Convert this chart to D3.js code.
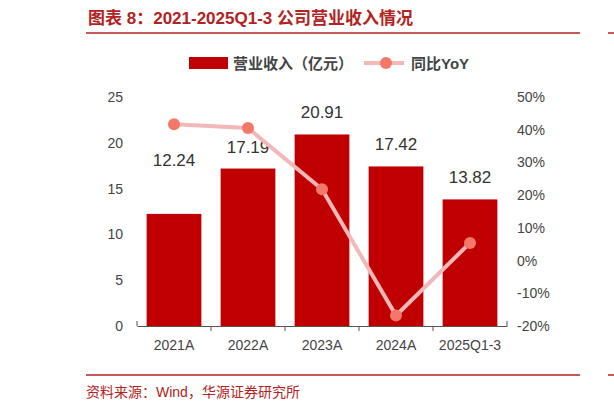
<!DOCTYPE html><html><head><meta charset="utf-8">
<script src="https://cdn.jsdelivr.net/npm/d3@7"></script>
<style>body{margin:0;background:#fff}text{font-family:Arial,"Liberation Sans","Noto Sans CJK SC",sans-serif}</style></head><body>
<svg id="c" width="614" height="412"></svg>
<script>
const categories=["2021A","2022A","2023A","2024A","2025Q1-3"];
const revenue=[12.24,17.19,20.91,17.42,13.82];
const yoy=[41.7,40.5,21.8,-16.8,5.4];
const leftTicks=[0,5,10,15,20,25];
const rightTicks=[-20,-10,0,10,20,30,40,50];
const svg=d3.select("#c");
const red="#c00000",tr="#b22222";
svg.append("text").attr("x",88).attr("y",24).attr("fill",tr).attr("font-size",17).attr("font-weight","bold")
 .attr("font-family","'Noto Sans CJK SC',sans-serif").text("图表 8：2021-2025Q1-3 公司营业收入情况");
svg.append("line").attr("x1",86).attr("x2",580).attr("y1",33).attr("y2",33).attr("stroke",tr).attr("stroke-width",1.5);
svg.append("line").attr("x1",608).attr("x2",614).attr("y1",33).attr("y2",33).attr("stroke",tr).attr("stroke-width",1.5);
svg.append("line").attr("x1",86).attr("x2",580).attr("y1",375).attr("y2",375).attr("stroke",tr).attr("stroke-width",1.5);
svg.append("line").attr("x1",608).attr("x2",614).attr("y1",375).attr("y2",375).attr("stroke",tr).attr("stroke-width",1.5);
svg.append("text").attr("x",86).attr("y",397).attr("fill",tr).attr("font-size",14)
 .attr("font-family","'Noto Sans CJK SC',monospace").text("资料来源：Wind，华源证券研究所");
// legend
svg.append("rect").attr("x",189).attr("y",57).attr("width",39).attr("height",12).attr("fill",red);
svg.append("text").attr("x",233).attr("y",69).attr("font-size",15).attr("font-weight","bold").attr("fill","#444").text("营业收入（亿元）");
svg.append("line").attr("x1",364).attr("x2",404).attr("y1",63).attr("y2",63).attr("stroke","#f2b8b8").attr("stroke-width",4);
svg.append("circle").attr("cx",386).attr("cy",63).attr("r",6).attr("fill","#f4786a");
svg.append("text").attr("x",411).attr("y",69).attr("font-size",15).attr("font-weight","bold").attr("fill","#444").text("同比YoY");
const x0=137,x1=507,yb=326;
const x=d3.scaleBand().domain(categories).range([x0,x1]).paddingInner(0.26).paddingOuter(0.13);
const y=d3.scaleLinear().domain([0,25]).range([yb,97]);
const y2=d3.scaleLinear().domain([-20,50]).range([yb,97]);
const ax=svg.append("g").attr("transform","translate(0,"+yb+")").call(d3.axisBottom(x).tickSize(0).tickPadding(14));
ax.select(".domain").attr("stroke","#555");
categories.slice(0,4).forEach((c,i)=>{const xx=x(c)+x.bandwidth()+x.step()*x.paddingInner()/2;
 svg.append("line").attr("x1",xx).attr("x2",xx).attr("y1",yb).attr("y2",yb+5).attr("stroke","#555");});
ax.selectAll("text").attr("font-size",14).attr("fill","#444");
const al=svg.append("g").attr("transform","translate("+x0+",0)").call(d3.axisLeft(y).tickValues(leftTicks).tickSize(0).tickPadding(14));
al.select(".domain").remove();al.selectAll("text").attr("font-size",14).attr("fill","#444");
const ar=svg.append("g").attr("transform","translate("+x1+",0)").call(d3.axisRight(y2).tickValues(rightTicks).tickFormat(d=>d+"%").tickSize(0).tickPadding(10));
ar.select(".domain").remove();ar.selectAll("text").attr("font-size",14).attr("fill","#444");
svg.append("line").attr("x1",x0).attr("x2",x0).attr("y1",yb-5).attr("y2",yb).attr("stroke","#555");
svg.append("line").attr("x1",x1).attr("x2",x1).attr("y1",yb-5).attr("y2",yb).attr("stroke","#555");
svg.selectAll(".bar").data(revenue).join("rect").attr("x",(d,i)=>x(categories[i])).attr("width",x.bandwidth())
 .attr("y",d=>y(d)).attr("height",d=>yb-y(d)).attr("fill",red);
svg.selectAll(".bl").data(revenue).join("text").attr("x",(d,i)=>x(categories[i])+x.bandwidth()/2).attr("y",(d,i)=>y(d)-(i===0?48:16))
 .attr("text-anchor","middle").attr("font-size",17).attr("fill","#333").text(d=>d.toFixed(2));
const line=d3.line().x((d,i)=>x(categories[i])+x.bandwidth()/2).y(d=>y2(d));
svg.append("path").attr("d",line(yoy)).attr("fill","none").attr("stroke","#f2b8b8").attr("stroke-width",4);
svg.selectAll(".pt").data(yoy).join("circle").attr("cx",(d,i)=>x(categories[i])+x.bandwidth()/2).attr("cy",d=>y2(d)).attr("r",6).attr("fill","#f4786a");
</script></body></html>
